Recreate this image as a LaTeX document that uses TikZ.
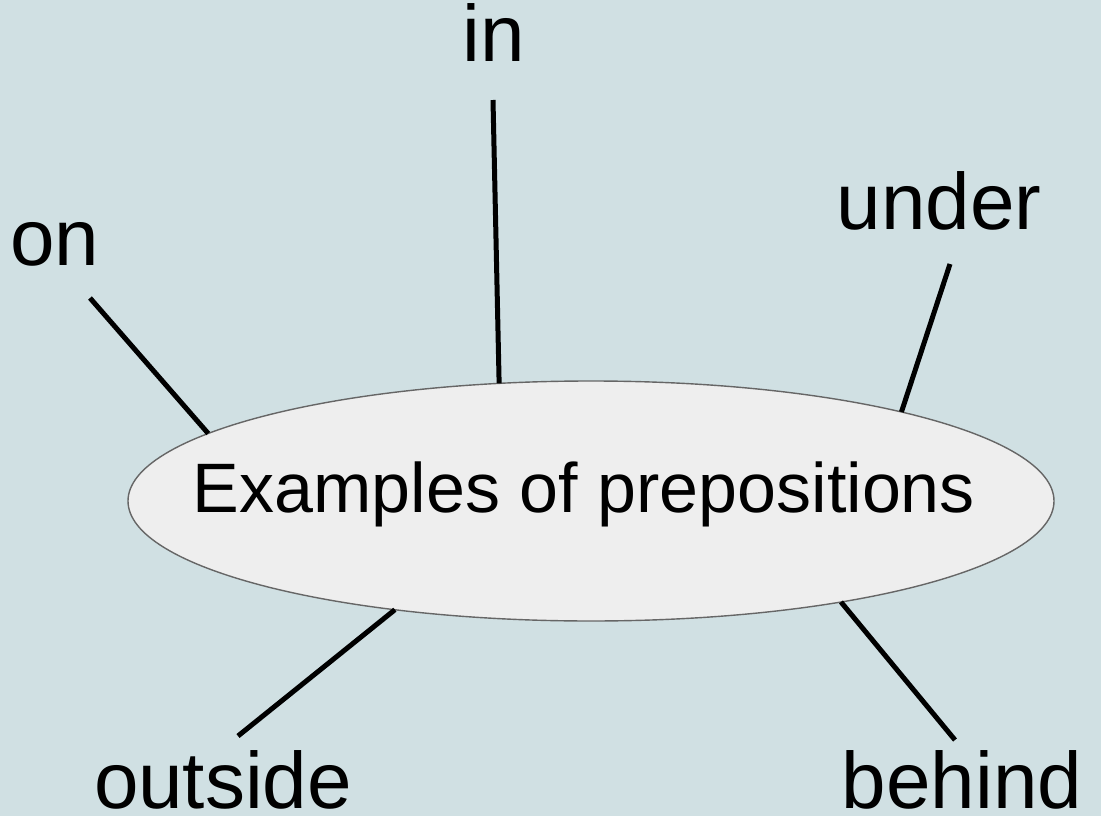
\documentclass[tikz,border=0pt]{standalone}
\usepackage{fontspec}
\setmainfont{Liberation Sans}
\usetikzlibrary{shapes.geometric}
\definecolor{bgc}{HTML}{D0E0E3}
\definecolor{ellfill}{HTML}{EEEEEE}
\definecolor{ellline}{HTML}{666666}
\tikzset{
  label/.style={anchor=base, inner sep=0pt, font=\fontsize{80}{92}\selectfont},
  conn/.style={line width=5pt, black},
  hub/.style={ellipse, draw=ellline, line width=1.4pt, fill=ellfill, minimum width=926pt, minimum height=240pt, inner sep=0pt, outer sep=0pt}
}
\begin{document}
\begin{tikzpicture}[x=1pt,y=-1pt]
\fill[bgc] (0,0) rectangle (1101,816);
\useasboundingbox (0,0) rectangle (1101,816);
\node[hub] (main) at (591,501) {};
\node[anchor=base, inner sep=0pt, font=\fontsize{70}{84}\selectfont] (title) at (584,512) {Examples of prepositions};
\node[label] (in) at (494,62) {in};
\node[label] (on) at (55,265) {on};
\node[label] (under) at (939,229) {under};
\node[label] (outside) at (223,808) {outside};
\node[label] (behind) at (962,808) {behind};
\coordinate (cin) at (493,100);
\coordinate (con) at (90,298);
\coordinate (cunder) at (950,264);
\coordinate (coutside) at (238,736);
\coordinate (cbehind) at (955,740);
\draw[conn] (cin) -- (main.128.3);
\draw[conn] (con) -- (main.170.66);
\draw[conn] (cunder) -- (main.16.0);
\draw[conn] (coutside) -- (main.209.1);
\draw[conn] (cbehind) -- (main.338.7);
\end{tikzpicture}
\end{document}
